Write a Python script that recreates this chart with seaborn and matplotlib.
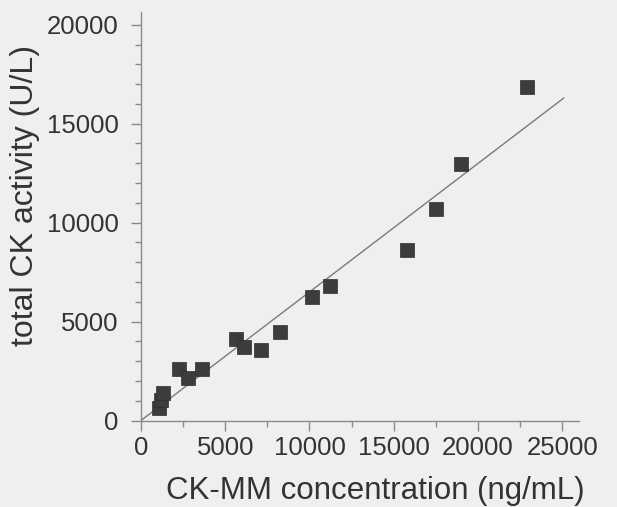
import numpy as np
import pandas as pd
import matplotlib
matplotlib.use("Agg")
import matplotlib.pyplot as plt
from matplotlib.ticker import MultipleLocator
import seaborn as sns

sns.set_style("white")
plt.rcParams['font.family'] = ['Liberation Sans', 'DejaVu Sans']

# values
ck_mm = [1040, 1190, 1320, 2270, 2810, 3600, 5630, 6130, 7120, 8260,
         10180, 11210, 15790, 17530, 19020, 22910]
total_ck = [630, 1030, 1370, 2580, 2160, 2580, 4130, 3730, 3570, 4450,
            6250, 6800, 8600, 10670, 12940, 16850]

df = pd.DataFrame({"ck_mm": ck_mm, "total_ck": total_ck})

# least squares line through the origin
x = np.array(ck_mm, dtype=float)
y = np.array(total_ck, dtype=float)
slope = (x * y).sum() / (x * x).sum()
line_x = np.array([0, 25100])
line_y = slope * line_x

bg = "#efefed"
fig = plt.figure(figsize=(6.17, 5.07), dpi=100, facecolor=bg)
ax = fig.add_axes([141 / 617, 1 - 420.5 / 507, (579 - 141) / 617, (420.5 - 11.7) / 507])
ax.set_facecolor(bg)

ax.plot(line_x, line_y, color="#7a7a7a", lw=1.0, zorder=2)
sns.scatterplot(data=df, x="ck_mm", y="total_ck", marker="s", s=100,
                color="#3c3c3c", edgecolor="#2e2e2e", linewidth=0.5, ax=ax, zorder=3)

ax.set_xlim(0, 26000)
ax.set_ylim(0, 20660)
ax.xaxis.set_major_locator(MultipleLocator(5000))
ax.xaxis.set_minor_locator(MultipleLocator(2500))
ax.yaxis.set_major_locator(MultipleLocator(5000))
ax.yaxis.set_minor_locator(MultipleLocator(1000))

for side in ["top", "right"]:
    ax.spines[side].set_visible(False)
for side in ["left", "bottom"]:
    ax.spines[side].set_color("#8a8a8a")
    ax.spines[side].set_linewidth(1.0)

ax.tick_params(which="major", direction="out", length=7, width=1, color="#8a8a8a",
               labelsize=18.5, labelcolor="#333333")
ax.tick_params(which="minor", direction="out", length=4, width=1, color="#8a8a8a")
ax.tick_params(axis="y", which="major", pad=9)
ax.tick_params(axis="x", which="major", pad=4)
ax.tick_params(left=True, bottom=True, which="both")

ax.set_xlabel("CK-MM concentration (ng/mL)", fontsize=22.5, color="#333333")
ax.set_ylabel("total CK activity (U/L)", fontsize=23, color="#333333")
ax.xaxis.set_label_coords(0.535, -0.135)
ax.yaxis.set_label_coords(-0.23, 0.55)

fig.savefig("out.png", dpi=100, facecolor=bg)
